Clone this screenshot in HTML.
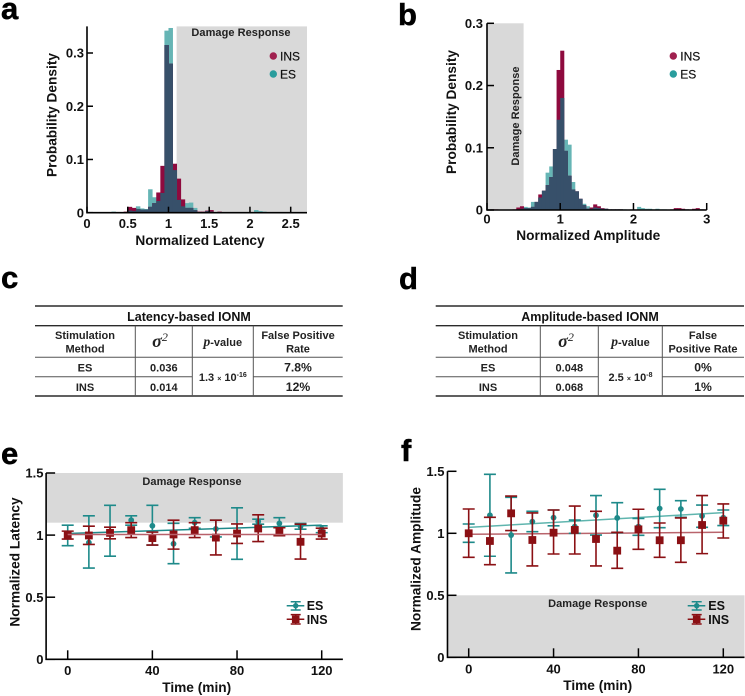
<!DOCTYPE html>
<html lang="en">
<head>
<meta charset="utf-8">
<title>IONM latency and amplitude figure</title>
<style>
html,body{margin:0;padding:0;background:#fff;width:745px;height:696px;overflow:hidden}
svg{display:block;font-family:"Liberation Sans",sans-serif;filter:blur(.3px)}
text{fill:#111}
.panel{font-weight:700;font-size:31px;fill:#000;stroke:#000;stroke-width:.5px}
.title{font-weight:700;font-size:13.7px;text-anchor:middle}
.tick{font-weight:700;font-size:13px}
.dmg{font-weight:700;font-size:11px;letter-spacing:.05px;text-anchor:middle;fill:#222}
.leg{font-size:12px;font-weight:400;stroke:#111;stroke-width:.2px}
.legb{font-size:12.5px;font-weight:700}
.th{font-weight:700;font-size:11px;text-anchor:middle;fill:#222}
.tt{font-weight:700;font-size:12.5px;text-anchor:middle;fill:#111}
.td{font-weight:700;font-size:11px;text-anchor:middle;fill:#222}
.tp{font-weight:700;font-size:12.2px;text-anchor:middle;fill:#222}
.ser{font-family:"Liberation Serif",serif;font-style:italic}
.thick{stroke:#2b2b2b;stroke-width:1.4}
.thin{stroke:#555;stroke-width:1}
</style>
</head>
<body>
<svg id="figure" xmlns="http://www.w3.org/2000/svg" width="745" height="696" viewBox="0 0 745 696">
  <text class="panel" x="1" y="19">a</text>
  <text class="panel" x="398" y="25">b</text>
  <text class="panel" x="1" y="288">c</text>
  <text class="panel" x="399" y="289">d</text>
  <text class="panel" x="1" y="464">e</text>
  <text class="panel" x="401" y="461">f</text>

  <g id="chart-a"></g>
  <g id="chart-b"></g>
  <g id="chart-e"></g>
  <g id="chart-f"></g>

  <text class="dmg" x="241" y="36">Damage Response</text>
  <text class="dmg" transform="translate(519,116) rotate(-90)">Damage Response</text>
  <text class="dmg" x="192" y="485">Damage Response</text>
  <text class="dmg" x="597.7" y="607">Damage Response</text>

  <text class="title" x="200" y="245">Normalized Latency</text>
  <text class="title" transform="translate(56.5,115) rotate(-90)">Probability Density</text>
  <text class="title" x="588.3" y="240">Normalized Amplitude</text>
  <text class="title" transform="translate(456,112) rotate(-90)">Probability Density</text>
  <text class="title" x="196.7" y="692">Time (min)</text>
  <text class="title" transform="translate(19.5,562) rotate(-90)">Normalized Latency</text>
  <text class="title" x="597.7" y="690">Time (min)</text>
  <text class="title" transform="translate(420.5,559) rotate(-90)">Normalized Amplitude</text>

  <g>
    <circle cx="273.3" cy="56" r="3.7" fill="#a0214f"/>
    <text class="leg" x="280" y="60.5">INS</text>
    <circle cx="273.3" cy="74" r="3.7" fill="#2a9d9d"/>
    <text class="leg" x="280" y="78.5">ES</text>
  </g>
  <g>
    <circle cx="673.3" cy="56" r="3.7" fill="#a0214f"/>
    <text class="leg" x="680.3" y="60.5">INS</text>
    <circle cx="673.3" cy="74" r="3.7" fill="#2a9d9d"/>
    <text class="leg" x="680.3" y="78.5">ES</text>
  </g>

  <g>
    <g fill="none" stroke="#1e8a8a" stroke-width="1.5">
      <path d="M286.7 605.7H304.3M290.7 601.7H300.7M290.7 610H300.7M295.7 601.7V610"/>
      <circle cx="295.7" cy="605.7" r="2.7" fill="#1e8a8a" stroke="none"/>
    </g>
    <text class="legb" x="306.7" y="610.2">ES</text>
    <g fill="none" stroke="#8b1014" stroke-width="1.5">
      <path d="M286.7 619.3H304.3M290.7 614.6H300.7M290.7 624H300.7M295.7 614.6V624"/>
      <rect x="291.9" y="615.5" width="7.6" height="7.6" fill="#8b1014" stroke="none"/>
    </g>
    <text class="legb" x="306.7" y="623.8">INS</text>
  </g>
  <g>
    <g fill="none" stroke="#1e8a8a" stroke-width="1.5">
      <path d="M687.7 605.7H705.3M691.7 601.7H701.7M691.7 610H701.7M696.7 601.7V610"/>
      <circle cx="696.7" cy="605.7" r="2.7" fill="#1e8a8a" stroke="none"/>
    </g>
    <text class="legb" x="708.3" y="610.2">ES</text>
    <g fill="none" stroke="#8b1014" stroke-width="1.5">
      <path d="M687.7 619.3H705.3M691.7 614.6H701.7M691.7 624H701.7M696.7 614.6V624"/>
      <rect x="692.9" y="615.5" width="7.6" height="7.6" fill="#8b1014" stroke="none"/>
    </g>
    <text class="legb" x="708.3" y="623.8">INS</text>
  </g>

  <g>
    <g>
      <line class="thick" x1="35" x2="342.7" y1="306" y2="306"/>
      <line class="thick" x1="35" x2="342.7" y1="325.7" y2="325.7"/>
      <line class="thin" x1="35" x2="342.7" y1="357.3" y2="357.3"/>
      <line class="thin" x1="35" x2="192.3" y1="376.7" y2="376.7"/>
      <line class="thin" x1="253.3" x2="342.7" y1="376.7" y2="376.7"/>
      <line class="thick" x1="35" x2="342.7" y1="396" y2="396"/>
      <line class="thin" x1="135.3" x2="135.3" y1="325.7" y2="396"/>
      <line class="thin" x1="192.3" x2="192.3" y1="325.7" y2="396"/>
      <line class="thin" x1="253.3" x2="253.3" y1="325.7" y2="396"/>
    </g>
    <text class="tt" x="189" y="321">Latency-based IONM</text>
    <text class="th" x="85" y="339">Stimulation</text>
    <text class="th" x="85" y="352.5">Method</text>
    <text class="th" x="160" y="347"><tspan class="ser" font-size="18" font-weight="700">σ</tspan><tspan class="ser" font-size="12" font-weight="400" font-style="normal" dy="-6">2</tspan></text>
    <text class="th" x="222.8" y="346"><tspan class="ser" font-size="13.5" font-weight="700">p</tspan>-value</text>
    <text class="th" x="298" y="339">False Positive</text>
    <text class="th" x="298" y="352.5">Rate</text>
    <text class="td" x="85" y="371.3">ES</text>
    <text class="td" x="163.8" y="371.3">0.036</text>
    <text class="tp" x="298" y="371.5">7.8%</text>
    <text class="td" x="85" y="391">INS</text>
    <text class="td" x="163.8" y="391">0.014</text>
    <text class="tp" x="298" y="391">12%</text>
    <text class="td" x="222.8" y="381">1.3 <tspan font-size="7">×</tspan> 10<tspan font-size="7" dy="-4">-16</tspan></text>
  </g>

  <g>
    <g>
      <line class="thick" x1="435.7" x2="744" y1="306" y2="306"/>
      <line class="thick" x1="435.7" x2="744" y1="325.7" y2="325.7"/>
      <line class="thin" x1="435.7" x2="744" y1="357.3" y2="357.3"/>
      <line class="thin" x1="435.7" x2="598.3" y1="376.7" y2="376.7"/>
      <line class="thin" x1="662.3" x2="744" y1="376.7" y2="376.7"/>
      <line class="thick" x1="435.7" x2="744" y1="396" y2="396"/>
      <line class="thin" x1="540.3" x2="540.3" y1="325.7" y2="396"/>
      <line class="thin" x1="598.3" x2="598.3" y1="325.7" y2="396"/>
      <line class="thin" x1="662.3" x2="662.3" y1="325.7" y2="396"/>
    </g>
    <text class="tt" x="590" y="321">Amplitude-based IONM</text>
    <text class="th" x="488" y="339">Stimulation</text>
    <text class="th" x="488" y="352.5">Method</text>
    <text class="th" x="566" y="347"><tspan class="ser" font-size="18" font-weight="700">σ</tspan><tspan class="ser" font-size="12" font-weight="400" font-style="normal" dy="-6">2</tspan></text>
    <text class="th" x="630.5" y="346"><tspan class="ser" font-size="13.5" font-weight="700">p</tspan>-value</text>
    <text class="th" x="703" y="339">False</text>
    <text class="th" x="703" y="352.5">Positive Rate</text>
    <text class="td" x="488" y="371.3">ES</text>
    <text class="td" x="569.3" y="371.3">0.048</text>
    <text class="tp" x="703" y="371.5">0%</text>
    <text class="td" x="488" y="391">INS</text>
    <text class="td" x="569.3" y="391">0.068</text>
    <text class="tp" x="703" y="391">1%</text>
    <text class="td" x="630.5" y="381">2.5 <tspan font-size="7">×</tspan> 10<tspan font-size="7" dy="-4">-8</tspan></text>
  </g>
</svg>

<script>
// Panel a: latency histogram, one value per 0.05-wide bin starting at 0
const latencyBinWidth = 0.05;
const latencyEs = [
  0,0,0,0,0,0,.002,.001,0,0,
  .004,.003,.012,.008,.007,.044,.029,.022,.037,.342,
  .347,.08,.024,.012,.018,.019,.009,.001,.001,.003,
  .002,.001,.001,.001,.001,.001,.001,.001,0,0,
  .001,.005,.003,.002,.001,.001,.001,0,0,0,
  0,.001,0,0
];
const latencyIns = [
  0,0,0,0,0,0,0,0,0,.002,
  .011,.009,.007,.006,.006,.011,.018,.038,.088,.315,
  .28,.092,.064,.025,.009,.009,.005,.002,.002,.004,
  .005,.001,.002,.001,0,0,0,0,0,0,
  0,0,0,0,0,0,0,0,0,0,
  0,0,0,0
];
const latencyXTicks = [0,0.5,1,1.5,2,2.5];
const latencyXLabels = ['0','0.5','1','1.5','2','2.5'];
const latencyYTicks = [0,0.1,0.2,0.3];
const latencyYLabels = ['0','0.1','0.2','0.3'];

// Panel b: amplitude histogram, one value per 0.05-wide bin starting at 0
const amplitudeBinWidth = 0.05;
const amplitudeEs = [
  0,0,0,0,0,0,0,0,.001,.002,
  .005,.004,.013,.013,.02,.031,.06,.07,.098,.145,
  .18,.113,.105,.045,.03,.018,.01,.006,.002,.004,
  .003,.002,.002,.001,.001,.001,.001,.001,0,.001,
  .001,.005,.003,.002,.002,.001,.002,.001,.001,0,
  0,.001,.001,.001,.001,0,.001,.001,.001,0
];
const amplitudeIns = [
  0,.001,.001,0,0,0,0,.001,.004,.006,
  .003,.003,.005,.013,.025,.031,.04,.053,.098,.225,
  .256,.095,.055,.033,.03,.018,.008,.002,.004,.009,
  .006,.003,.002,.001,.001,.001,.001,0,0,0,
  0,0,0,0,0,0,0,0,0,0,
  .001,.003,.003,.002,.001,.001,.002,.003,.001,.001
];
const amplitudeXTicks = [0,1,2,3];
const amplitudeXLabels = ['0','1','2','3'];
const amplitudeYTicks = [0,0.1,0.2,0.3];
const amplitudeYLabels = ['0','0.1','0.2','0.3'];

// Panels e and f: time courses
const timePoints = [0,10,20,30,40,50,60,70,80,90,100,110,120];
const timeTicks = [0,40,80,120];
const timeLabels = ['0','40','80','120'];
const courseYTicks = [0,0.5,1,1.5];
const courseYLabels = ['0','0.5','1','1.5'];
const fitTimes = [0,120];

const latEsMean = [1.0,.94,1.03,1.12,1.075,.93,1.10,1.05,1.01,1.11,1.094,1.07,1.05];
const latEsHigh = [1.08,1.155,1.24,1.155,1.24,1.095,1.14,1.12,1.22,1.128,1.14,1.094,1.075];
const latEsLow  = [.915,.735,.83,1.08,.92,.77,1.055,.985,.805,1.088,1.06,1.048,1.02];
const latInsMean = [1.0,.997,1.018,1.04,.976,1.005,1.04,.98,1.013,1.053,1.027,.946,1.013];
const latInsHigh = [1.032,1.072,1.064,1.10,1.024,1.12,1.10,1.12,1.09,1.163,1.06,1.088,1.056];
const latInsLow  = [.968,.925,.97,.98,.92,.887,.98,.84,.933,.948,.995,.807,.968];
const latEsFit = [1.013,1.08];
const latInsFit = [1.005,1.005];

const ampEsMean = [1.0,1.145,.986,1.094,1.126,1.054,1.145,1.124,1.054,1.2,1.196,1.14,1.126];
const ampEsHigh = [1.075,1.476,1.29,1.177,1.188,1.107,1.304,1.247,1.12,1.355,1.263,1.228,1.188];
const ampEsLow  = [.927,.815,.68,1.013,1.06,1.0,.986,1.005,.984,1.045,1.129,1.048,1.062];
const ampInsMean = [1.0,.938,1.161,.946,1.005,1.027,.954,.86,1.032,.944,.944,1.067,1.102];
const ampInsHigh = [1.196,1.129,1.30,1.164,1.188,1.22,1.177,1.008,1.194,1.083,1.124,1.304,1.237];
const ampInsLow  = [.806,.747,1.022,.737,.833,.833,.737,.718,.871,.806,.766,.836,.962];
const ampEsFit = [1.048,1.167];
const ampInsFit = [.992,1.008];

const NS = 'http://www.w3.org/2000/svg';
function scale(d0, d1, r0, r1) {
  return function (v) { return r0 + (v - d0) * (r1 - r0) / (d1 - d0); };
}
function mk(parent, tag, attrs) {
  const n = document.createElementNS(NS, tag);
  for (const k in attrs) n.setAttribute(k, attrs[k]);
  parent.appendChild(n);
  return n;
}
function band(parent, x0, x1, y0, y1) {
  const r = mk(parent, 'rect', {x: x0, y: y0, width: x1 - x0, height: y1 - y0, fill: '#d9d9d9'});
  
  
}
function axes(parent, o) {
  const ax = mk(parent, 'path', {
    d: 'M' + o.left + ' ' + o.top + 'V' + o.base + 'H' + o.right,
    fill: 'none', stroke: '#000', 'stroke-width': 1.6
  });
  
  
  o.xTicks.forEach(function (v, i) {
    const px = o.x(v);
    const t = mk(parent, 'line', {x1: px, x2: px, y1: o.base, y2: o.base - o.len, stroke: '#000', 'stroke-width': 1.5});
    
    
    const l = mk(parent, 'text', {x: px, y: o.xLabelY, class: 'tick', 'text-anchor': 'middle'});
    l.textContent = o.xLabels[i];
    
    
  });
  o.yTicks.forEach(function (v, i) {
    const py = o.y(v);
    const t = mk(parent, 'line', {x1: o.left, x2: o.left + o.len, y1: py, y2: py, stroke: '#000', 'stroke-width': 1.5});
    
    
    const l = mk(parent, 'text', {x: o.yLabelX, y: py + 4.7, class: 'tick', 'text-anchor': 'end'});
    l.textContent = o.yLabels[i];
    
    
  });
}
function histogram(parent, es, ins, binW, x, y) {
  const base = y(0);
  es.forEach(function (e, i) {
    const x0 = x(i * binW), w = x((i + 1) * binW) - x0 + 0.4;
    const a = mk(parent, 'rect', {x: x0, y: y(e), width: w, height: base - y(e), fill: '#66b5b5'});
    
    
  });
  ins.forEach(function (n, i) {
    const x0 = x(i * binW), w = x((i + 1) * binW) - x0 + 0.4;
    const b = mk(parent, 'rect', {x: x0, y: y(n), width: w, height: base - y(n), fill: '#8e0a3e'});
    
    
  });
  es.forEach(function (e, i) {
    const x0 = x(i * binW), w = x((i + 1) * binW) - x0 + 0.4;
    const m = Math.min(e, ins[i]);
    const c = mk(parent, 'rect', {x: x0, y: y(m), width: w, height: base - y(m), fill: '#37506a'});
    
    
  });
}
function errorSeries(parent, times, mean, high, low, color, square, x, y, name) {
  times.forEach(function (t, i) {
    const px = x(t);
    const d = 'M' + px + ' ' + y(high[i]) + 'V' + y(low[i]) +
      'M' + (px - 6) + ' ' + y(high[i]) + 'H' + (px + 6) +
      'M' + (px - 6) + ' ' + y(low[i]) + 'H' + (px + 6);
    const bar = mk(parent, 'path', {d: d, fill: 'none', stroke: color, 'stroke-width': 1.6});
    
    
  });
  times.forEach(function (t, i) {
    const px = x(t), py = y(mean[i]);
    const m = square
      ? mk(parent, 'rect', {x: px - 3.9, y: py - 3.9, width: 7.8, height: 7.8, fill: color})
      : mk(parent, 'circle', {cx: px, cy: py, r: 2.9, fill: color});
    
    
  });
}
function fit(parent, times, vals, color, x, y, name) {
  const f = mk(parent, 'line', {x1: x(times[0]), x2: x(times[1]), y1: y(vals[0]), y2: y(vals[1]), stroke: color, 'stroke-width': 1.5});
  
  
}

// Panel a
(function () {
  const g = document.getElementById('chart-a');
  const x = scale(0, 2.5, 87, 290.7), y = scale(0, 0.3, 212.7, 53);
  band(g, x(1.1), x(2.7), y(0.35), y(0));
  histogram(g, latencyEs, latencyIns, latencyBinWidth, x, y);
  axes(g, {left: x(0), right: x(2.7), top: y(0.35), base: y(0), x: x, y: y, len: 6,
    xTicks: latencyXTicks, xLabels: latencyXLabels, yTicks: latencyYTicks, yLabels: latencyYLabels,
    xLabelY: 228, yLabelX: 84});
})();

// Panel b
(function () {
  const g = document.getElementById('chart-b');
  const x = scale(0, 3, 487, 706.7), y = scale(0, 0.3, 210, 23.3);
  band(g, x(0), x(0.5), y(0.3), y(0));
  histogram(g, amplitudeEs, amplitudeIns, amplitudeBinWidth, x, y);
  axes(g, {left: x(0), right: x(3), top: y(0.3), base: y(0), x: x, y: y, len: 7,
    xTicks: amplitudeXTicks, xLabels: amplitudeXLabels, yTicks: amplitudeYTicks, yLabels: amplitudeYLabels,
    xLabelY: 223.5, yLabelX: 483});
})();

// Panel e
(function () {
  const g = document.getElementById('chart-e');
  const x = scale(0, 120, 67.7, 321.7), y = scale(0, 1.5, 659.3, 473);
  band(g, x(-10.2), x(130), y(1.5), y(1.1));
  errorSeries(g, timePoints, latEsMean, latEsHigh, latEsLow, '#1e8a8a', false, x, y, 'es');
  fit(g, fitTimes, latEsFit, '#1e8a8a', x, y, 'es');
  errorSeries(g, timePoints, latInsMean, latInsHigh, latInsLow, '#8b1014', true, x, y, 'ins');
  fit(g, fitTimes, latInsFit, '#b8606a', x, y, 'ins');
  axes(g, {left: x(-10.2), right: x(130), top: y(1.5), base: y(0), x: x, y: y, len: 9,
    xTicks: timeTicks, xLabels: timeLabels, yTicks: courseYTicks, yLabels: courseYLabels,
    xLabelY: 675, yLabelX: 43.5});
})();

// Panel f
(function () {
  const g = document.getElementById('chart-f');
  const x = scale(0, 120, 468.7, 723.3), y = scale(0, 1.5, 657.3, 471.3);
  band(g, x(-10), x(130), y(0.5), y(0));
  fit(g, fitTimes, ampEsFit, '#5fb5ae', x, y, 'es');
  fit(g, fitTimes, ampInsFit, '#b9646c', x, y, 'ins');
  errorSeries(g, timePoints, ampEsMean, ampEsHigh, ampEsLow, '#1e8a8a', false, x, y, 'es');
  errorSeries(g, timePoints, ampInsMean, ampInsHigh, ampInsLow, '#8b1014', true, x, y, 'ins');
  axes(g, {left: x(-10), right: x(130), top: y(1.5), base: y(0), x: x, y: y, len: 9,
    xTicks: timeTicks, xLabels: timeLabels, yTicks: courseYTicks, yLabels: courseYLabels,
    xLabelY: 673.5, yLabelX: 444.5});
})();
</script>
</body>
</html>
